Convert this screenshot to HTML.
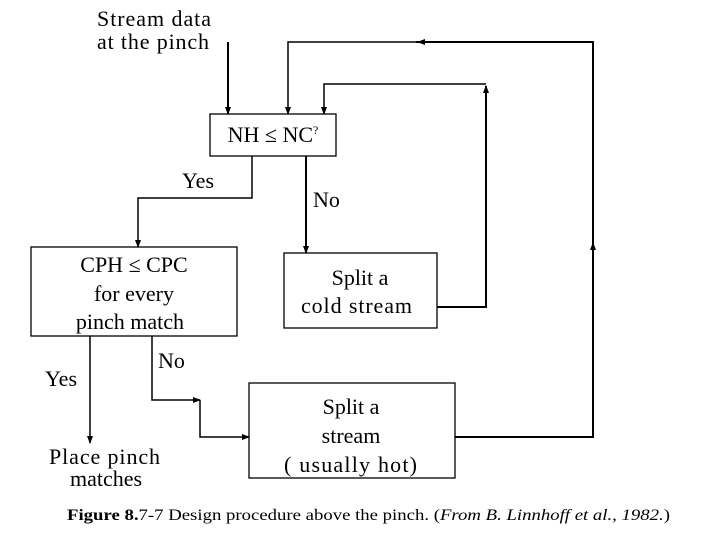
<!DOCTYPE html>
<html><head><meta charset="utf-8"><style>
body{margin:0;background:#fff;}
svg text{font-family:"Liberation Serif",serif;fill:#000;}
</style></head><body>
<svg width="720" height="540" viewBox="0 0 720 540" xmlns="http://www.w3.org/2000/svg">
<defs>
<marker id="a" markerWidth="8" markerHeight="8" refX="7" refY="4" orient="auto" markerUnits="userSpaceOnUse">
<path d="M0,1 L8,4 L0,7 Z" fill="#000"/></marker>
</defs>
<g stroke="#000" stroke-width="2" fill="none">
<rect x="210" y="114" width="126" height="42" stroke-width="1.3"/>
<rect x="31" y="247" width="206" height="89" stroke-width="1.3"/>
<rect x="284" y="253" width="153" height="75" stroke-width="1.3"/>
<rect x="249" y="383" width="206" height="95" stroke-width="1.3"/>
<line x1="228" y1="42" x2="228" y2="114" marker-end="url(#a)"/>
<polyline points="455,437 593,437 593,243" marker-end="url(#a)"/>
<polyline points="593,244 593,42 416,42"/>
<line x1="430" y1="42" x2="418" y2="42" marker-end="url(#a)"/>
<polyline points="420,42 288,42 288,114" marker-end="url(#a)" stroke-width="1.5"/>
<polyline points="437,307 486,307 486,86" marker-end="url(#a)"/>
<polyline points="486,84 324,84 324,114" marker-end="url(#a)" stroke-width="1.5"/>
<line x1="306" y1="156" x2="306" y2="253" marker-end="url(#a)"/>
<polyline points="252,156 252,198 138,198 138,247" stroke-width="1.5" marker-end="url(#a)"/>
<line x1="90" y1="336" x2="90" y2="443" stroke-width="1.5" marker-end="url(#a)"/>
<polyline points="152,336 152,400 200,400" stroke-width="1.5" marker-end="url(#a)"/>
<polyline points="200,400 200,437 249,437" stroke-width="1.5" marker-end="url(#a)"/>
</g>
<g font-size="22">
<text x="97" y="26" textLength="114">Stream data</text>
<text x="97" y="49" textLength="112">at the pinch</text>
<text x="273" y="142" text-anchor="middle">NH ≤ NC<tspan font-size="12" dy="-8">?</tspan></text>
<text x="182" y="188">Yes</text>
<text x="313" y="207">No</text>
<text x="134" y="272" text-anchor="middle">CPH ≤ CPC</text>
<text x="134" y="301" text-anchor="middle">for every</text>
<text x="130" y="329" text-anchor="middle">pinch match</text>
<text x="360" y="285" text-anchor="middle">Split a</text>
<text x="301" y="313" textLength="111">cold stream</text>
<text x="158" y="368">No</text>
<text x="45" y="386">Yes</text>
<text x="351" y="414" text-anchor="middle">Split a</text>
<text x="351" y="443" text-anchor="middle">stream</text>
<text x="284" y="472" textLength="133">( usually hot)</text>
<text x="49" y="464" textLength="111">Place pinch</text>
<text x="106" y="486" text-anchor="middle">matches</text>
</g>
<text x="67" y="520" font-size="16" textLength="603" lengthAdjust="spacingAndGlyphs"><tspan font-weight="bold">Figure 8.</tspan>7-7  Design procedure above the pinch. (<tspan font-style="italic">From B. Linnhoff et al., 1982.</tspan>)</text>
</svg>
</body></html>
